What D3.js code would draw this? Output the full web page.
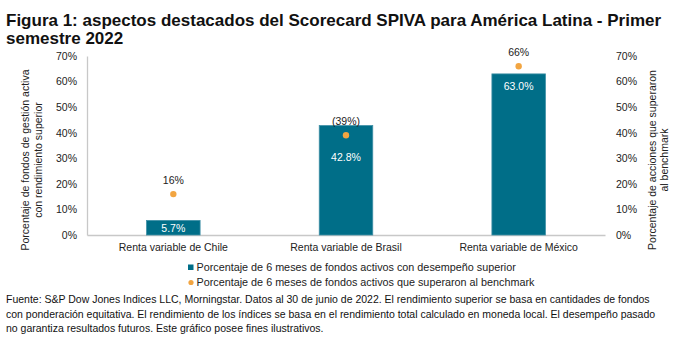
<!DOCTYPE html>
<html><head><meta charset="utf-8">
<script src="https://cdn.jsdelivr.net/npm/d3@7"></script>
<style>body{margin:0;background:#fff;font-family:"Liberation Sans",Arial,sans-serif;}</style>
</head><body><svg id="c" width="692" height="337"></svg>
<script>
const categories = ["Renta variable de Chile", "Renta variable de Brasil", "Renta variable de México"];
const barValues = [5.7, 42.8, 63.0];
const dotValues = [16, 39, 66];
const dotLabels = ["16%", "(39%)", "66%"];
const tickValues = [0, 10, 20, 30, 40, 50, 60, 70];
const legendLabels = ["Porcentaje de 6 meses de fondos activos con desempeño superior", "Porcentaje de 6 meses de fondos activos que superaron al benchmark"];
const titleLines = ["Figura 1: aspectos destacados del Scorecard SPIVA para América Latina - Primer", "semestre 2022"];
const footLines = ["Fuente: S&P Dow Jones Indices LLC, Morningstar. Datos al 30 de junio de 2022. El rendimiento superior se basa en cantidades de fondos",
 "con ponderación equitativa. El rendimiento de los índices se basa en el rendimiento total calculado en moneda local. El desempeño pasado",
 "no garantiza resultados futuros. Este gráfico posee fines ilustrativos."];

const svg = d3.select("#c");
const font = "'Liberation Sans', Arial, sans-serif";
const barColor = "#006e88", dotColor = "#f2a541", txt = "#222";
const x0 = 87, x1 = 605, yTop = 56, yBot = 235;
const x = d3.scaleBand().domain(categories).range([x0, x1]).paddingInner(0.69).paddingOuter(0.345);
const y = d3.scaleLinear().domain([0, 70]).range([yBot, yTop]);

// Title
svg.append("g").selectAll("text").data(titleLines).join("text")
  .attr("x", 6).attr("y", (d, i) => 26 + i * 18)
  .attr("font-family", font).attr("font-weight", "bold").attr("font-size", 17).attr("fill", "#111")
  .text(d => d);

// Axes
const yl = d3.axisLeft(y).tickValues(tickValues).tickFormat(d => d + "%").tickSize(0).tickPadding(10);
const gl = svg.append("g").attr("transform", `translate(${x0},0)`).call(yl);
gl.select(".domain").attr("stroke", "#c8c8c8").attr("stroke-width", 1.3);
gl.selectAll("text").attr("font-family", font).attr("font-size", 10.5).attr("fill", txt);
const yr = d3.axisRight(y).tickValues(tickValues).tickFormat(d => d + "%").tickSize(0).tickPadding(11);
const gr = svg.append("g").attr("transform", `translate(${x1},0)`).call(yr);
gr.select(".domain").remove();
gr.selectAll("text").attr("font-family", font).attr("font-size", 10.5).attr("fill", txt);

const xa = d3.axisBottom(x).tickSize(0).tickPadding(9);
const gx = svg.append("g").attr("transform", `translate(0,${yBot})`).call(xa);
gx.select(".domain").attr("stroke", "#c8c8c8").attr("stroke-width", 1.3);
gx.selectAll("text").attr("font-family", font).attr("font-size", 10.5).attr("fill", txt);

// Axis titles
function vtitle(cx, lines) {
  svg.append("g").attr("transform", `translate(${cx},160) rotate(-90)`)
    .selectAll("text").data(lines).join("text")
    .attr("x", 0).attr("y", (d, i) => i * 12.5).attr("text-anchor", "middle")
    .attr("font-family", font).attr("font-size", 10.5).attr("fill", txt).text(d => d);
}
vtitle(29, ["Porcentaje de fondos de gestión activa", "con rendimiento superior"]);
vtitle(655.5, ["Porcentaje de acciones que superaron", "al benchmark"]);

// Bars
svg.append("g").selectAll("rect").data(categories).join("rect")
  .attr("x", d => x(d)).attr("width", x.bandwidth())
  .attr("y", (d, i) => y(barValues[i])).attr("height", (d, i) => yBot - y(barValues[i]))
  .attr("fill", barColor).attr("stroke", "#3f8fa6").attr("stroke-width", 0.8);

// Bar labels
svg.append("g").selectAll("text").data(categories).join("text")
  .attr("x", d => x(d) + x.bandwidth() / 2)
  .attr("y", (d, i) => {
    const top = y(barValues[i]), h = yBot - top, dy = y(dotValues[i]);
    let c;
    if (h < 24) c = top + h / 2;
    else if (dy > top) c = dy + 22;
    else c = top + 12;
    return c + 4;
  })
  .attr("text-anchor", "middle").attr("font-family", font).attr("font-size", 10.5).attr("fill", "#fff")
  .text((d, i) => barValues[i].toFixed(1) + "%");

// Dots
svg.append("g").selectAll("circle").data(categories).join("circle")
  .attr("cx", d => x(d) + x.bandwidth() / 2).attr("cy", (d, i) => y(dotValues[i])).attr("r", 3.2)
  .attr("fill", dotColor);
svg.append("g").selectAll("text").data(categories).join("text")
  .attr("x", d => x(d) + x.bandwidth() / 2).attr("y", (d, i) => y(dotValues[i]) - 10)
  .attr("text-anchor", "middle").attr("font-family", font).attr("font-size", 10.5).attr("fill", txt)
  .text((d, i) => dotLabels[i]);

// Legend
const lg = svg.append("g");
lg.append("rect").attr("x", 188).attr("y", 264.5).attr("width", 5.5).attr("height", 5.5).attr("fill", barColor);
lg.append("circle").attr("cx", 191).attr("cy", 282.5).attr("r", 2.6).attr("fill", dotColor);
lg.selectAll("text").data(legendLabels).join("text")
  .attr("x", 196.5).attr("y", (d, i) => 271 + i * 15)
  .attr("font-family", font).attr("font-size", 10.8).attr("fill", txt).text(d => d);

// Footnote
svg.append("g").selectAll("text").data(footLines).join("text")
  .attr("x", 6).attr("y", (d, i) => 303 + i * 14.5)
  .attr("font-family", font).attr("font-size", 10.5).attr("fill", "#111").text(d => d);
</script></body></html>
